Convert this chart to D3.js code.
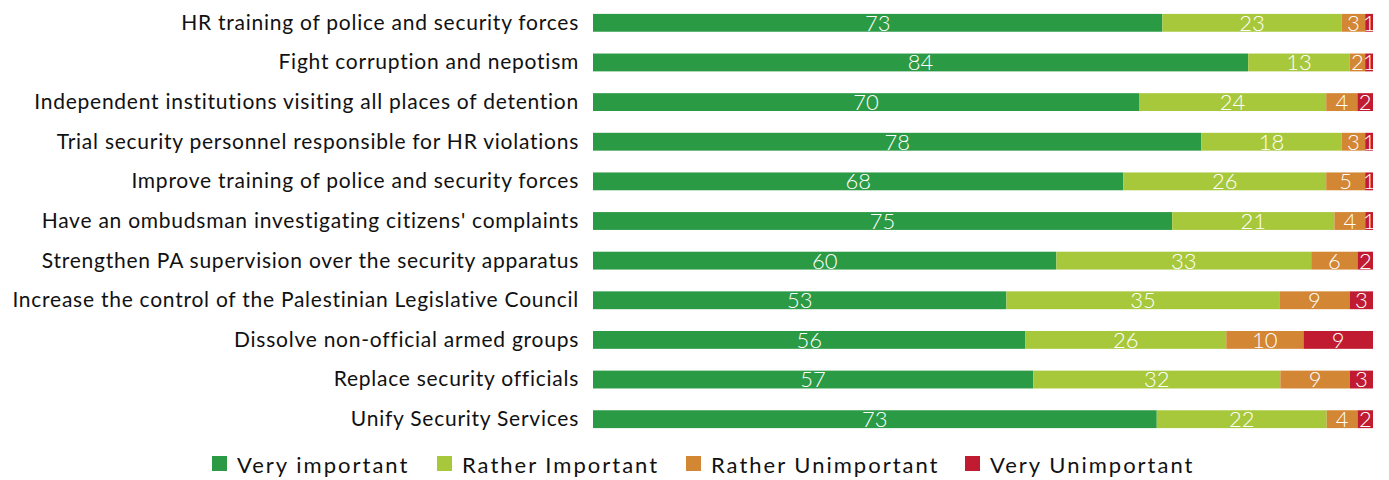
<!DOCTYPE html>
<html><head><meta charset="utf-8">
<script src="https://cdn.jsdelivr.net/npm/d3@7"></script>
<style>body{margin:0;background:#fff}text{font-family:Lato,"Open Sans",sans-serif}</style>
</head><body><svg id="c" width="1389" height="480"></svg>
<script>
const categories = [
  "HR training of police and security forces",
  "Fight corruption and nepotism",
  "Independent institutions visiting all places of detention",
  "Trial security personnel responsible for HR violations",
  "Improve training of police and security forces",
  "Have an ombudsman investigating citizens' complaints",
  "Strengthen PA supervision over the security apparatus",
  "Increase the control of the Palestinian Legislative Council",
  "Dissolve non-official armed groups",
  "Replace security officials",
  "Unify Security Services"
];
const seriesNames = ["Very important","Rather Important","Rather Unimportant","Very Unimportant"];
const veryImportant     = [73,84,70,78,68,75,60,53,56,57,73];
const ratherImportant   = [23,13,24,18,26,21,33,35,26,32,22];
const ratherUnimportant = [3,2,4,3,5,4,6,9,10,9,4];
const veryUnimportant   = [1,1,2,1,1,1,2,3,9,3,2];
const colors = ["#2b9a45","#a8c83c","#d38633","#c01b30"];

const rows = categories.map((c,i)=>({cat:c,
  "Very important":veryImportant[i],"Rather Important":ratherImportant[i],
  "Rather Unimportant":ratherUnimportant[i],"Very Unimportant":veryUnimportant[i]}));

const svg = d3.select("#c");
const x = d3.scaleLinear().domain([0,1]).range([593,1373]);
const y = d3.scaleBand().domain(categories).range([3,439]).paddingInner(0.55).paddingOuter(0.275);
const color = d3.scaleOrdinal().domain(seriesNames).range(colors);
const stack = d3.stack().keys(seriesNames).offset(d3.stackOffsetExpand);
const series = stack(rows);

const g = svg.append("g");
series.forEach(s=>{
  const gg = g.append("g").attr("fill", color(s.key));
  gg.selectAll("rect").data(s).join("rect")
    .attr("x", d=>x(d[0])).attr("width", d=>x(d[1])-x(d[0]))
    .attr("y", d=>y(d.data.cat)).attr("height", y.bandwidth());
});
series.forEach(s=>{
  g.append("g").selectAll("text").data(s).join("text")
    .attr("x", d=>(x(d[0])+x(d[1]))/2)
    .attr("y", d=>y(d.data.cat)+y.bandwidth()-1)
    .attr("text-anchor","middle").attr("fill","#fff").attr("font-size",22).attr("font-weight",300)
    .text(d=>d.data[s.key]);
});

// category axis
const ax = svg.append("g").attr("transform","translate(579,0)")
  .call(d3.axisLeft(y).tickSize(0).tickPadding(0));
ax.select(".domain").remove();
ax.selectAll("text").attr("font-size",21).attr("fill","#111").attr("dy","0.33em")
  .attr("letter-spacing","0.75px")
  .style("font-family","Lato,'Open Sans',sans-serif");

// legend
const legX = [212,437,686,965];
const leg = svg.append("g");
seriesNames.forEach((n,i)=>{
  leg.append("rect").attr("x",legX[i]).attr("y",456).attr("width",15).attr("height",15).attr("fill",colors[i]);
  leg.append("text").attr("x",legX[i]+25).attr("y",473).attr("font-size",22).attr("letter-spacing","2px")
    .attr("fill","#111").text(n);
});
</script></body></html>
